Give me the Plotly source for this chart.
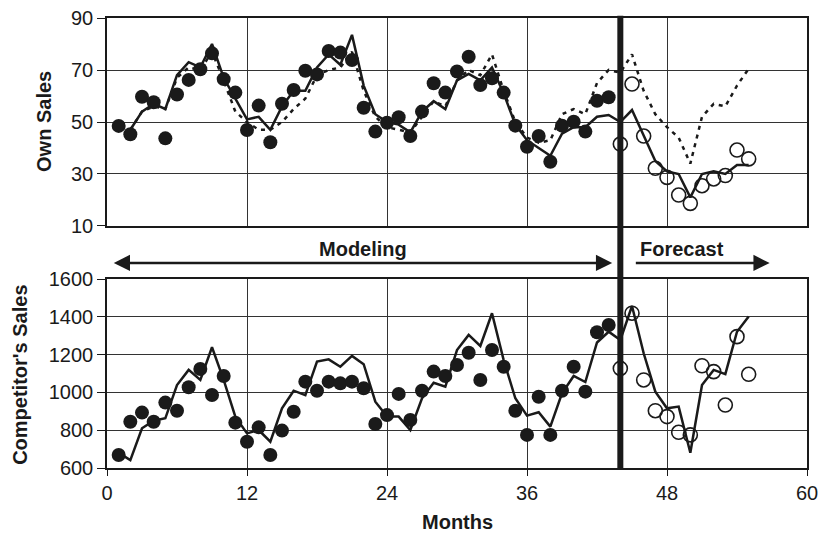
import plotly.graph_objects as go

months_obs = list(range(1, 56))
own_obs = [48.5, 45.3, 59.7, 57.6, 43.7, 60.6, 66.2, 70.3, 76.4, 66.5,
           61.3, 46.9, 56.3, 42.2, 57.0, 62.3, 69.7, 68.3, 77.3, 76.7,
           73.8, 55.5, 46.3, 49.7, 51.8, 44.6, 54.0, 64.9, 61.3, 69.4,
           75.1, 64.2, 66.8, 61.3, 48.6, 40.5, 44.6, 34.7, 48.6, 50.1,
           46.3, 58.2, 59.5, 41.5, 64.6, 44.6, 32.2, 28.7, 21.9, 18.7,
           25.5, 28.1, 29.4, 39.2, 35.8]

months_fit = list(range(2, 56))
own_fit_solid = [47, 54, 57, 55, 68, 73, 71, 80, 67, 59,
                 51, 52, 47, 56, 62, 62, 71, 76, 72, 83.5,
                 64, 53, 50, 49, 46, 54, 58, 55, 66, 68.5,
                 66, 71, 61, 49, 43, 40, 37, 45.5, 48, 48,
                 52, 52.7, 50, 54.6, 45, 35, 31, 30, 21, 30,
                 31, 30, 33.5, 33.5]
own_fit_dashed = [47, 54, 56, 55, 67, 71, 70, 77, 66, 54,
                  50, 47, 47, 50, 55, 59, 68, 70, 71, 77,
                  62, 52, 48, 47, 46, 52, 58, 56, 66, 70,
                  68, 76, 62, 50, 44, 42, 43, 53, 55, 53,
                  65, 70, 69, 76, 62, 53, 48, 44, 34, 52,
                  57, 56, 64, 70.5]

comp_obs = [669, 845, 893, 845, 946, 903, 1027, 1124, 986, 1087,
            840, 739, 815, 669, 798, 898, 1057, 1009, 1057, 1048,
            1057, 1022, 833, 880, 992, 854, 1009, 1110, 1087, 1145,
            1210, 1066, 1224, 1136, 903, 775, 977, 775, 1009, 1136,
            1004, 1318, 1357, 1127, 1419, 1066, 903, 872, 789, 775,
            1141, 1110, 933, 1295, 1096]
comp_fit = [680, 642, 810, 850, 863, 1039, 1119, 1066, 1239, 1066,
            872, 783, 801, 739, 916, 1009, 986, 1163, 1175, 1136,
            1193, 1149, 951, 872, 872, 801, 969, 1051, 1030, 1224,
            1304, 1246, 1419, 1171, 969, 877, 895, 819, 995, 1087,
            1055, 1264, 1321, 1277, 1457, 1207, 1004, 916, 925, 681,
            1039, 1119, 1097, 1321, 1401]

split_month = 44
x_ticks = [0, 12, 24, 36, 48, 60]

model_m = [m for m in months_obs if m < split_month]
fore_m = [m for m in months_obs if m >= split_month]

FONT = "Liberation Sans, Arial, sans-serif"
INK = "#1a1a1a"

fig = go.Figure()

# top panel lines
fig.add_trace(go.Scatter(x=months_fit, y=own_fit_dashed, mode="lines",
                         line=dict(color=INK, width=2.5, dash="4px,5px"),
                         xaxis="x", yaxis="y", showlegend=False))
fig.add_trace(go.Scatter(x=months_fit, y=own_fit_solid, mode="lines",
                         line=dict(color=INK, width=2.5),
                         xaxis="x", yaxis="y", showlegend=False))
fig.add_trace(go.Scatter(x=model_m, y=[own_obs[m - 1] for m in model_m], mode="markers",
                         marker=dict(color=INK, size=14, symbol="circle"),
                         xaxis="x", yaxis="y", showlegend=False))
fig.add_trace(go.Scatter(x=fore_m, y=[own_obs[m - 1] for m in fore_m], mode="markers",
                         marker=dict(color=INK, size=14, symbol="circle-open", line=dict(width=1.6, color=INK)),
                         xaxis="x", yaxis="y", showlegend=False))

# bottom panel
fig.add_trace(go.Scatter(x=months_obs, y=comp_fit, mode="lines",
                         line=dict(color=INK, width=2.5),
                         xaxis="x2", yaxis="y2", showlegend=False))
fig.add_trace(go.Scatter(x=model_m, y=[comp_obs[m - 1] for m in model_m], mode="markers",
                         marker=dict(color=INK, size=14, symbol="circle"),
                         xaxis="x2", yaxis="y2", showlegend=False))
fig.add_trace(go.Scatter(x=fore_m, y=[comp_obs[m - 1] for m in fore_m], mode="markers",
                         marker=dict(color=INK, size=14, symbol="circle-open", line=dict(width=1.6, color=INK)),
                         xaxis="x2", yaxis="y2", showlegend=False))

axis_common = dict(showline=True, linecolor=INK, linewidth=1.5, mirror=True, automargin=False,
                   showgrid=True, gridcolor="#333333", gridwidth=1, zeroline=False,
                   ticklabeloverflow="allow",
                   tickfont=dict(family=FONT, size=20, color=INK))

fig.update_layout(
    template="none",
    width=822, height=536,
    margin=dict(l=107, r=15, t=18, b=68, autoexpand=False),
    paper_bgcolor="white", plot_bgcolor="white",
    xaxis=dict(domain=[0, 1], range=[0, 60], tickvals=x_ticks, showticklabels=False,
               ticks="", anchor="y", **axis_common),
    yaxis=dict(domain=[0.5378, 1], range=[10, 90], tickvals=[10, 30, 50, 70, 90],
               ticks="outside", ticklen=8, tickcolor=INK, anchor="x", **axis_common),
    xaxis2=dict(domain=[0, 1], range=[0, 60], tickvals=x_ticks, ticks="outside", ticklen=6,
                tickcolor=INK, anchor="y2", **axis_common),
    yaxis2=dict(domain=[0, 0.42], range=[600, 1600], tickvals=[600, 800, 1000, 1200, 1400, 1600],
                ticks="outside", ticklen=8, tickcolor=INK, anchor="x2", **axis_common),
    shapes=[dict(type="line", xref="x", yref="paper", x0=split_month, x1=split_month,
                 y0=0, y1=1.005, line=dict(color=INK, width=6))],
)

title_font = dict(family=FONT, size=20, color=INK)
ann = []
ann.append(dict(xref="paper", yref="paper", x=-0.09, y=0.769, text="<b>Own Sales</b>", textangle=-90,
                xanchor="center", yanchor="middle", showarrow=False, font=title_font))
ann.append(dict(xref="paper", yref="paper", x=-0.1243, y=0.207, text="<b>Competitor's Sales</b>", textangle=-90,
                xanchor="center", yanchor="middle", showarrow=False, font=title_font))
ann.append(dict(xref="paper", yref="paper", x=0.501, y=-0.12, text="<b>Months</b>",
                xanchor="center", yanchor="middle", showarrow=False, font=title_font))
ann.append(dict(xref="x2", yref="paper", x=21.9, y=0.487, text="<b>Modeling</b>",
                xanchor="center", yanchor="middle", showarrow=False, font=title_font))
ann.append(dict(xref="x2", yref="paper", x=49.3, y=0.487, text="<b>Forecast</b>",
                xanchor="center", yanchor="middle", showarrow=False, font=title_font))
# arrows
ann.append(dict(xref="x2", yref="paper", x=43.3, y=0.4556, axref="x2", ax=0.45, ayref="pixel", ay=0,
                text="", showarrow=True, arrowhead=2, startarrowhead=2, arrowside="end+start",
                arrowsize=1.3, startarrowsize=1.3, arrowwidth=2.5, arrowcolor=INK))
ann.append(dict(xref="x2", yref="paper", x=56.8, y=0.4556, axref="x2", ax=45.2, ayref="pixel", ay=0,
                text="", showarrow=True, arrowhead=2, arrowsize=1.3, arrowwidth=2.5, arrowcolor=INK))
fig.update_layout(annotations=ann)

fig.write_html("out.html", config={"displayModeBar": False},
               post_script="document.body.style.margin='0';document.body.style.overflow='hidden';")
